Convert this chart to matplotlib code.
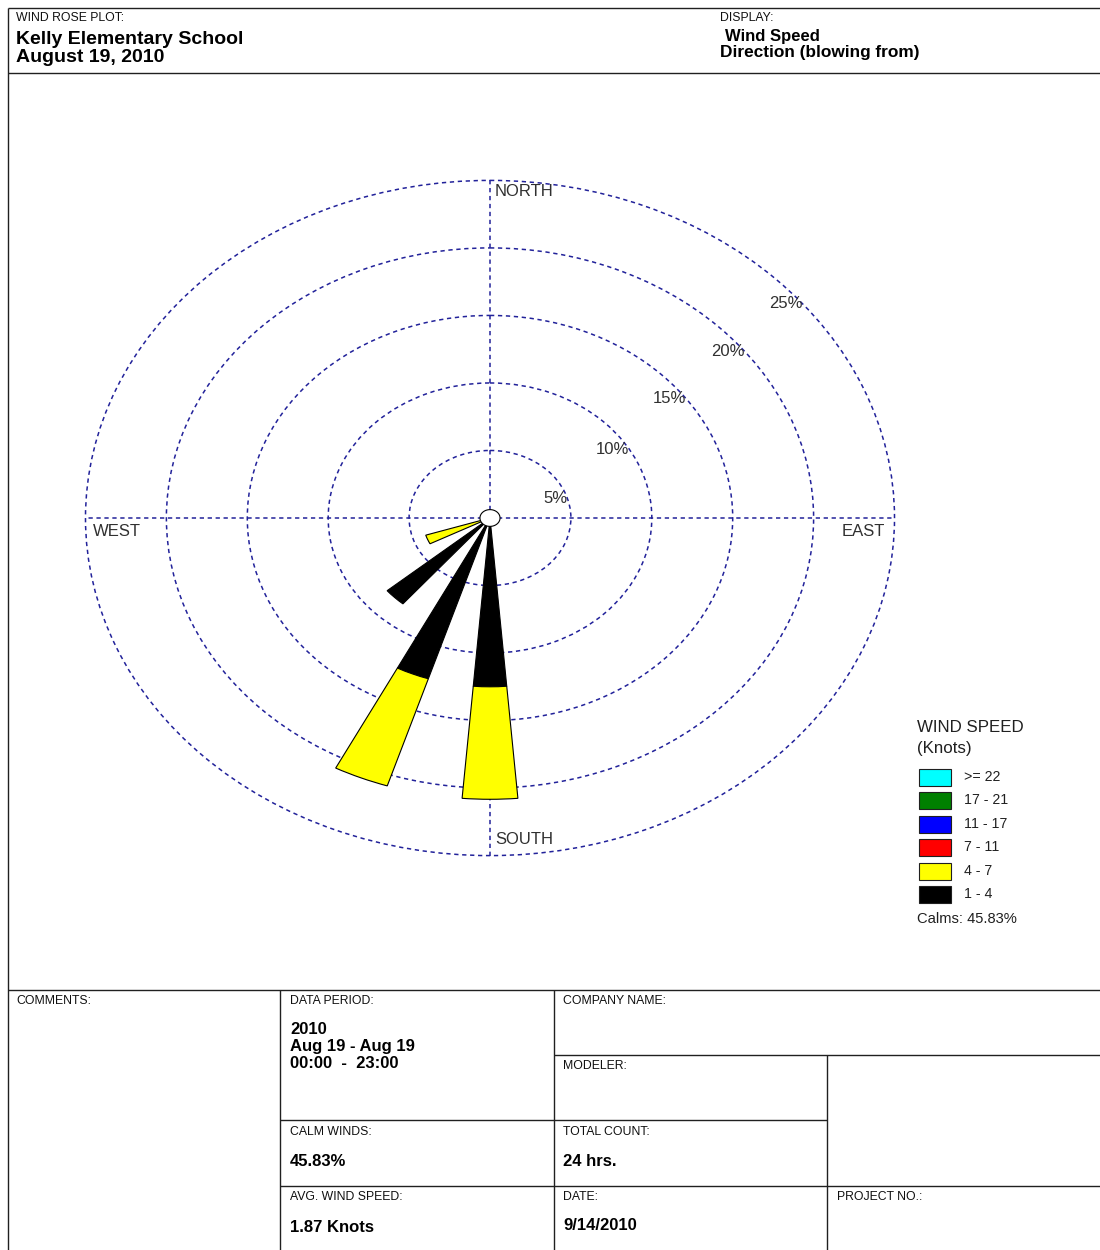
import numpy as np
import matplotlib
matplotlib.use('Agg')
import matplotlib.pyplot as plt
from matplotlib.patches import Rectangle

plt.rcParams['font.family'] = ['Liberation Sans', 'DejaVu Sans']

# ---------------- data ----------------
directions = ['N', 'NNE', 'NE', 'ENE', 'E', 'ESE', 'SE', 'SSE',
              'S', 'SSW', 'SW', 'WSW', 'W', 'WNW', 'NW', 'NNW']
bearings = [0, 22.5, 45, 67.5, 90, 112.5, 135, 157.5,
            180, 202.5, 225, 247.5, 270, 292.5, 315, 337.5]
speed_1_4 = [0, 0, 0, 0, 0, 0, 0, 0, 12.50, 12.50, 8.33, 0, 0, 0, 0, 0]
speed_4_7 = [0, 0, 0, 0, 0, 0, 0, 0, 8.33, 8.33, 0, 4.17, 0, 0, 0, 0]
speed_bins = ['>= 22', '17 - 21', '11 - 17', '7 - 11', '4 - 7', '1 - 4']
bin_colors = ['#00FFFF', '#008000', '#0000FF', '#FF0000', '#FFFF00', '#000000']
ring_values = [5, 10, 15, 20, 25]
ring_labels = ['5%', '10%', '15%', '20%', '25%']
calm_pct = 45.83

W, H = 1100, 1250
fig = plt.figure(figsize=(W / 100, H / 100), dpi=100)
fig.patch.set_facecolor('white')

# ---------------- frame / text overlay (pixel coordinates) ----------------
ax0 = fig.add_axes([0, 0, 1, 1])
ax0.set_xlim(0, W)
ax0.set_ylim(H, 0)
ax0.axis('off')

lc = '#202020'
def seg(x1, y1, x2, y2, lw=1.0):
    ax0.plot([x1, x2], [y1, y2], color=lc, lw=lw, solid_capstyle='butt')

seg(8, 8, W, 8)
seg(8, 73, W, 73)
seg(8, 8, 8, H)
seg(8, 990, W, 990)
seg(280, 990, 280, H)
seg(554, 990, 554, H)
seg(554, 1055, W, 1055)
seg(280, 1120, 827, 1120)
seg(827, 1055, 827, H)
seg(280, 1186, W, 1186)

small = dict(fontsize=8.8, color='#101010', va='center', ha='left')
bold = dict(fontsize=12, fontweight='bold', color='black', va='center', ha='left')

ax0.text(16, 18, 'WIND ROSE PLOT:', **small)
ax0.text(16, 39, 'Kelly Elementary School', **{**bold, 'fontsize': 14})
ax0.text(16, 58, 'August 19, 2010', **{**bold, 'fontsize': 14})
ax0.text(720, 18, 'DISPLAY:', **small)
ax0.text(725, 36, 'Wind Speed', **bold)
ax0.text(720, 53, 'Direction (blowing from)', **{**bold, 'fontsize': 12.4})

ax0.text(16, 1001, 'COMMENTS:', **small)
ax0.text(290, 1001, 'DATA PERIOD:', **small)
ax0.text(290, 1030, '2010', **bold)
ax0.text(290, 1047, 'Aug 19 - Aug 19', **bold)
ax0.text(290, 1064, '00:00  -  23:00', **bold)
ax0.text(563, 1001, 'COMPANY NAME:', **small)
ax0.text(563, 1066, 'MODELER:', **small)
ax0.text(290, 1132, 'CALM WINDS:', **small)
ax0.text(290, 1161, f'{calm_pct:.2f}%', **bold)
ax0.text(563, 1132, 'TOTAL COUNT:', **small)
ax0.text(563, 1161, '24 hrs.', **bold)
ax0.text(290, 1197, 'AVG. WIND SPEED:', **small)
ax0.text(290, 1227, '1.87 Knots', **bold)
ax0.text(563, 1197, 'DATE:', **small)
ax0.text(563, 1226, '9/14/2010', **bold)
ax0.text(837, 1197, 'PROJECT NO.:', **small)

# direction labels
dl = dict(fontsize=12, color='#303030', va='center')
ax0.text(495, 192, 'NORTH', ha='left', **dl)
ax0.text(495, 839, 'SOUTH', ha='left', **dl)
ax0.text(93, 531, 'WEST', ha='left', **dl)
ax0.text(885, 531, 'EAST', ha='right', **dl)

# legend
ax0.text(917, 728, 'WIND SPEED', fontsize=12.2, color='#202020', va='center', ha='left')
ax0.text(917, 748, '(Knots)', fontsize=12.2, color='#202020', va='center', ha='left')
legend_y = [777, 800, 824, 847, 871, 894]
for lab, col, yy in zip(speed_bins, bin_colors, legend_y):
    ax0.add_patch(Rectangle((919, yy - 8.5), 32, 17, facecolor=col,
                            edgecolor='#202020', lw=0.8))
    ax0.text(964, yy, lab, fontsize=10.2, color='#202020', va='center', ha='left')
ax0.text(917, 919, f'Calms: {calm_pct:.2f}%', fontsize=10.6, color='#202020',
         va='center', ha='left')

# ---------------- wind rose (elliptical polar axes) ----------------
ax = fig.add_axes([85 / W, 1 - 856 / H, 810 / W, 676 / H], projection='polar')
ax.set_aspect('auto')
ax.set_theta_zero_location('N')
ax.set_theta_direction(-1)
ax.patch.set_alpha(0)
ax.spines['polar'].set_visible(False)
ax.set_ylim(0, 25.03)
ax.set_yticks(ring_values)
ax.set_yticklabels([])
ax.set_xticks(np.deg2rad([0, 90, 180, 270]))
ax.set_xticklabels([])
ax.tick_params(length=0)
ax.grid(True, color='#22229a', linestyle=(0, (2.8, 2.4)), linewidth=1.1)
for gl in ax.yaxis.get_gridlines() + ax.xaxis.get_gridlines():
    gl.set_clip_on(False)

theta = np.deg2rad(bearings)
width = np.deg2rad(9.5)
s1 = np.array(speed_1_4)
s2 = np.array(speed_4_7)
m1 = s1 > 0
ax.bar(theta[m1], s1[m1], width=width, bottom=0, color=bin_colors[5],
       edgecolor='black', linewidth=0.8, zorder=3)
m2 = s2 > 0
ax.bar(theta[m2], s2[m2], width=width, bottom=s1[m2], color=bin_colors[4],
       edgecolor='black', linewidth=0.8, zorder=3)

# calm circle
tc = np.linspace(0, 2 * np.pi, 100)
ax.fill(tc, np.full_like(tc, 0.62), facecolor='white', edgecolor='black',
        linewidth=0.8, zorder=4)

# ring labels
ring_angles = [73, 59.5, 54, 52, 50.5]
for v, lab, a in zip(ring_values, ring_labels, ring_angles):
    ax.text(np.deg2rad(a), v, lab, ha='right', va='center', fontsize=12,
            color='#303030', zorder=5)

fig.savefig('out.png', dpi=100, facecolor='white')
